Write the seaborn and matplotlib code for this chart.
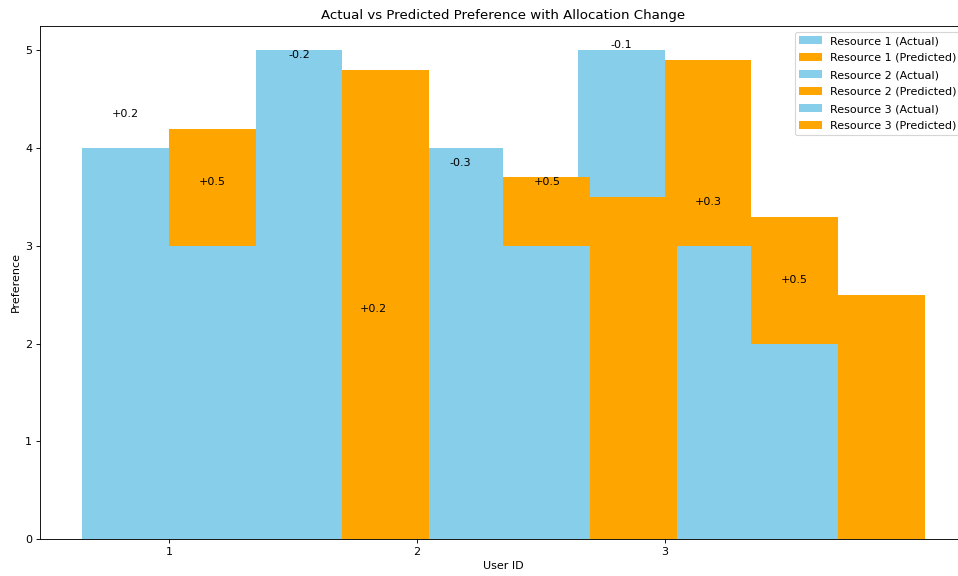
import numpy as np
import pandas as pd
import matplotlib
matplotlib.use("Agg")
import matplotlib.pyplot as plt
import seaborn as sns

# ---- data ----
users = [1, 2, 3]
resources = ["Resource 1", "Resource 2", "Resource 3"]
actual_r1 = [4.0, 2.0, 5.0]
actual_r2 = [3.0, 4.0, 3.0]
actual_r3 = [5.0, 3.0, 2.0]
pred_r1 = [4.2, 2.2, 4.9]
pred_r2 = [3.5, 3.7, 3.3]
pred_r3 = [4.8, 3.5, 2.5]

actual = [actual_r1, actual_r2, actual_r3]
predicted = [pred_r1, pred_r2, pred_r3]

sns.set_style("white")
plt.rcParams.update({
    "font.family": ["DejaVu Sans"],
    "axes.edgecolor": "black",
    "axes.linewidth": 0.8,
    "xtick.bottom": True,
    "ytick.left": True,
    "xtick.color": "black",
    "ytick.color": "black",
    "axes.labelcolor": "black",
    "text.color": "black",
    "font.size": 10,
    "axes.labelsize": 10,
    "axes.titlesize": 12,
    "xtick.labelsize": 10,
    "ytick.labelsize": 10,
    "legend.fontsize": 10,
})

DPI = 80
fig = plt.figure(figsize=(958 / DPI, 576 / DPI), dpi=DPI)
ax = fig.add_axes([40 / 958, 1 - 539 / 576, (967 - 40) / 958, (539 - 26) / 576])

x = np.arange(len(users))
width = 0.35

for i, res in enumerate(resources):
    pos_a = x + i * width - width / 2
    pos_p = x + i * width + width / 2
    df_a = pd.DataFrame({"pos": pos_a, "val": actual[i]})
    df_p = pd.DataFrame({"pos": pos_p, "val": predicted[i]})
    sns.barplot(data=df_a, x="pos", y="val", native_scale=True, width=width,
                color="skyblue", saturation=1, errorbar=None, linewidth=0,
                label=f"{res} (Actual)", ax=ax)
    sns.barplot(data=df_p, x="pos", y="val", native_scale=True, width=width,
                color="orange", saturation=1, errorbar=None, linewidth=0,
                label=f"{res} (Predicted)", ax=ax)
    for j in range(len(users)):
        diff = predicted[i][j] - actual[i][j]
        ax.text(pos_a[j], predicted[i][j] + 0.1, f"{diff:+.1f}",
                ha="center", va="bottom", fontsize=10)

ax.set_xticks(x)
ax.set_xticklabels([str(u) for u in users])
ax.set_xlim(-0.52, 3.22)
ax.set_ylim(0, 5.25)
ax.set_xlabel("User ID")
ax.set_ylabel("Preference")
ax.set_title("Actual vs Predicted Preference with Allocation Change")
ax.legend(loc="upper right", labelspacing=0.63)

fig.savefig("out.png", dpi=DPI)
